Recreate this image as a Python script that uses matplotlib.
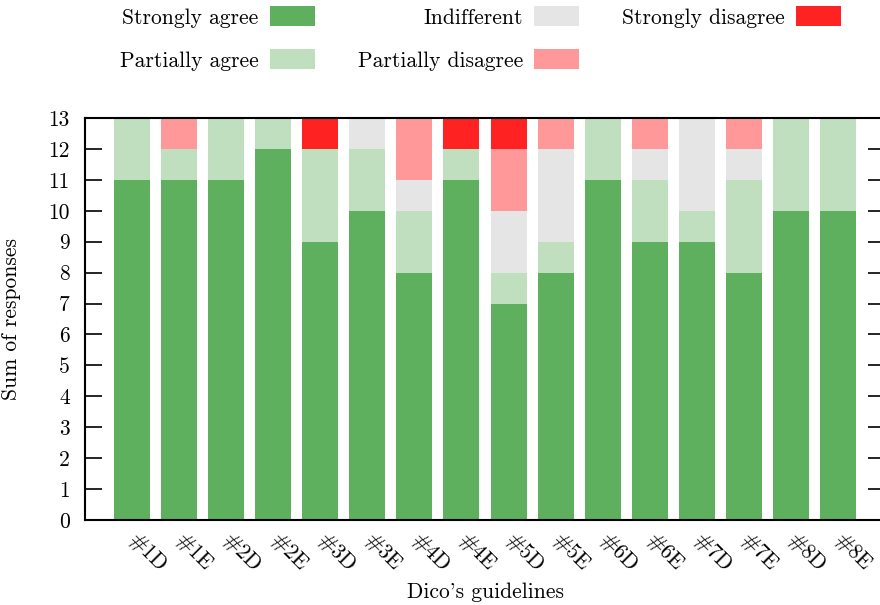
import numpy as np
import matplotlib
matplotlib.use('Agg')
import matplotlib.pyplot as plt

plt.rcParams['font.family'] = 'cmr10'
plt.rcParams['axes.unicode_minus'] = False
plt.rcParams['font.size'] = 15.5

guidelines = ['#1D', '#1E', '#2D', '#2E', '#3D', '#3E', '#4D', '#4E',
              '#5D', '#5E', '#6D', '#6E', '#7D', '#7E', '#8D', '#8E']

# responses per category, stacked bottom to top
strongly_agree     = [11, 11, 11, 12, 9, 10, 8, 11, 7, 8, 11, 9, 9, 8, 10, 10]
partially_agree    = [2, 1, 2, 1, 3, 2, 2, 1, 1, 1, 2, 2, 1, 3, 3, 3]
indifferent        = [0, 0, 0, 0, 0, 1, 1, 0, 2, 3, 0, 1, 3, 1, 0, 0]
partially_disagree = [0, 1, 0, 0, 0, 0, 2, 0, 2, 1, 0, 1, 0, 1, 0, 0]
strongly_disagree  = [0, 0, 0, 0, 1, 0, 0, 1, 1, 0, 0, 0, 0, 0, 0, 0]

series = [('Strongly agree', strongly_agree, '#5eb05e'),
          ('Partially agree', partially_agree, '#bfdfbf'),
          ('Indifferent', indifferent, '#e5e5e5'),
          ('Partially disagree', partially_disagree, '#ff9999'),
          ('Strongly disagree', strongly_disagree, '#ff2222')]

fs = 15.5
fig = plt.figure(figsize=(8.8, 6.05), dpi=100)
ax = fig.add_axes([85/880, 1 - 520/605, 800/880, 402/605])

x = np.arange(len(guidelines))
bottom = np.zeros(len(guidelines))
handles = []
for name, vals, color in series:
    b = ax.bar(x, vals, width=0.764, bottom=bottom, color=color, label=name,
               linewidth=0)
    handles.append(b)
    bottom += np.array(vals)

ax.set_xlim(-1, 16)
ax.set_ylim(0, 13)
ax.set_yticks(range(0, 14))
ax.set_xticks(x)
ax.set_xticklabels(guidelines, rotation=-45, ha='left', va='center',
                   rotation_mode='anchor')
ax.tick_params(axis='y', direction='in', length=12, width=1.2, right=True,
               pad=11, labelsize=fs)
ax.tick_params(axis='x', length=0, pad=12, labelsize=fs)
for s in ['left', 'bottom', 'top']:
    ax.spines[s].set_linewidth(1.5)
ax.spines['right'].set_visible(False)

ax.set_ylabel('Sum of responses', fontsize=fs)
ax.yaxis.set_label_coords(-0.08, 0.5)
ax.set_xlabel("Dico's guidelines", fontsize=fs, va='top')
ax.xaxis.set_label_coords(0.5, -0.155)

fig.legend(handles=handles, ncol=3, loc='upper left',
           bbox_to_anchor=(120/880, 1 - 6/605), frameon=False,
           markerfirst=False, handlelength=2.09, handleheight=1.08,
           handletextpad=0.51, columnspacing=2.0, labelspacing=1.0,
           borderpad=0, borderaxespad=0, fontsize=fs)

fig.savefig('out.png', dpi=100)
